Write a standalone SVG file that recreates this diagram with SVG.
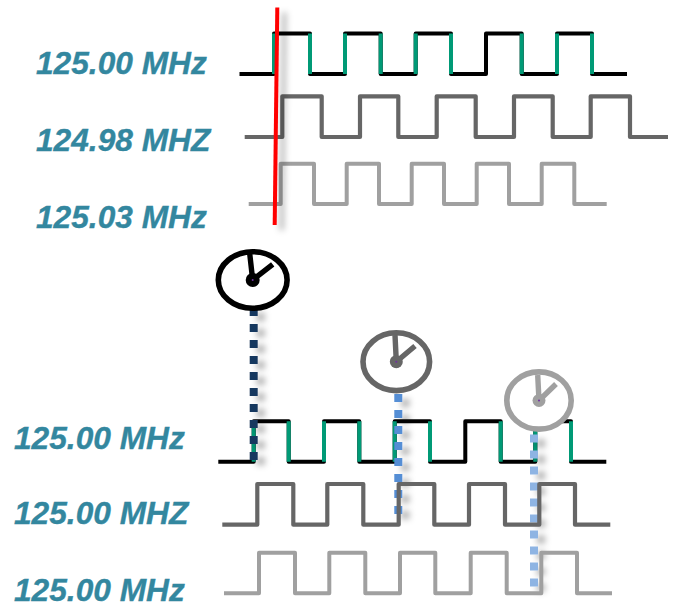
<svg xmlns="http://www.w3.org/2000/svg" width="673" height="602" viewBox="0 0 673 602">
<style>
.lbl{font-family:"Liberation Sans",Arial,sans-serif;font-weight:bold;font-style:italic;font-size:31.7px;fill:#33879f;stroke:#33879f;stroke-width:.35}
.w{fill:none;stroke-linejoin:round}
.k{stroke:#000;stroke-width:4}
.g{stroke:#009a76;stroke-width:4;fill:none}
.m{stroke:#666;stroke-width:4.2}
.l{stroke:#a0a0a0;stroke-width:4}
.d{fill:none;stroke-width:8;stroke-dasharray:8 8}
.hand{fill:none;stroke-width:5.4}
.ring{fill:#fff;stroke-width:5.6}
</style>
<defs>
<filter id="sh" filterUnits="userSpaceOnUse" x="0" y="0" width="673" height="602">
<feDropShadow dx="7" dy="5" stdDeviation="3" flood-color="#000" flood-opacity="0.32"/>
</filter>
</defs>
<rect width="673" height="602" fill="#fff"/>
<g id="label-top-1"><text class="lbl" x="36" y="74">125.00 MHz</text></g>
<g id="label-top-2"><text class="lbl" x="36" y="151">124.98 MHZ</text></g>
<g id="label-top-3"><text class="lbl" x="36" y="228">125.03 MHz</text></g>
<g id="label-bottom-1"><text class="lbl" x="14" y="448.5">125.00 MHz</text></g>
<g id="label-bottom-2"><text class="lbl" x="14" y="524.3">125.00 MHZ</text></g>
<g id="label-bottom-3"><text class="lbl" x="14" y="601">125.00 MHz</text></g>

<g id="wave-top-1">
<path class="w k" d="M239.5 74H274V33.5H310V74H345V33.5H380.7V74H415.7V33.5H451V74H486V33.5H521.7V74H557V33.5H592V74H627"/>
<path class="g" d="M274 74V33.5M310 33.5V74M345 74V33.5M380.7 33.5V74M415.7 74V33.5M451 33.5V74M521.7 33.5V74M557 74V33.5M592 33.5V74"/>
</g>
<g id="wave-top-2"><path class="w m" d="M244.7 137H282.3V96.3H321.7V137H360V96.3H398.3V137H436.7V96.3H475.7V137H514V96.3H552.7V137H590.7V96.3H630V137H668"/></g>
<g id="wave-top-3"><path class="w l" d="M248.7 204H280.7V163.7H314V204H346.7V163.7H379V204H411.7V163.7H444V204H476.7V163.7H509V204H541.7V163.7H574.3V204H606.7"/></g>
<g id="marker-red"><path d="M277.3 7.5L274.7 225" stroke="#f00" stroke-width="4" fill="none" filter="url(#sh)"/></g>

<g id="wave-bottom-1">
<path class="w k" d="M218.3 461.7H253.7V421.3H288.7V461.7H324V421.3H359.3V461.7H394.7V421.3H430V461.7H465.3V421.3H500.7V461.7H535.3V421.3H571V461.7H606.3"/>
<path class="g" d="M253.7 461.7V421.3M288.7 421.3V461.7M324 461.7V421.3M359.3 421.3V461.7M394.7 461.7V421.3M430 421.3V461.7M500.7 421.3V461.7M535.3 461.7V421.3M571 421.3V461.7"/>
</g>

<g id="connectors">
<path class="d" d="M253.7 308V460" stroke="#17375e" filter="url(#sh)"/>
<path class="d" d="M398.3 394V514" stroke="#558ed5" filter="url(#sh)"/>
<path class="d" d="M534 434.5V587" stroke="#8eb4e3" filter="url(#sh)"/>
</g>

<g id="wave-bottom-2"><path class="w m" d="M222.3 524.7H257.3V484H293.3V524.7H327.3V484H363.3V524.7H398.7V484H434.3V524.7H469V484H505V524.7H539.3V484H575V524.7H610.3"/></g>
<g id="wave-bottom-3"><path class="w l" d="M224 593.3H259V552.7H295V593.3H329.3V552.7H365.3V593.3H400V552.7H435.3V593.3H470.7V552.7H506.7V593.3H541.3V552.7H577V593.3H612"/></g>

<g id="clock-black" stroke="#000">
<ellipse class="ring" cx="252.7" cy="280" rx="34.4" ry="28.3"/>
<path class="hand" d="M252.7 280L249.3 250M252.7 280L272.7 264.3"/>
<circle cx="252.7" cy="280" r="7" fill="#000" stroke="none"/>
<circle cx="252.7" cy="280" r="1" fill="#7030a0" stroke="none"/>
</g>
<g id="clock-grey" stroke="#666">
<ellipse class="ring" cx="396.3" cy="361.7" rx="33.3" ry="28.9"/>
<path class="hand" d="M396.3 361.7L395 335M396.3 361.7L415 346"/>
<circle cx="396.3" cy="361.7" r="6.5" fill="#666" stroke="none"/>
<circle cx="396.3" cy="361.7" r="1" fill="#7030a0" stroke="none"/>
</g>
<g id="clock-light" stroke="#a0a0a0">
<ellipse class="ring" cx="539" cy="400.5" rx="32.2" ry="28.6"/>
<path class="hand" d="M539 400.5L537.7 375M539 400.5L556 384"/>
<circle cx="539" cy="400.5" r="6.5" fill="#a0a0a0" stroke="none"/>
<circle cx="539" cy="400.5" r="1" fill="#7030a0" stroke="none"/>
</g>
</svg>
